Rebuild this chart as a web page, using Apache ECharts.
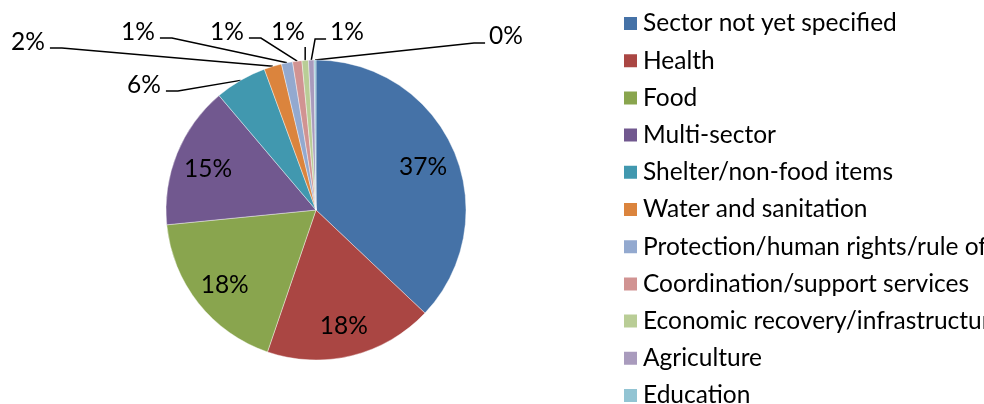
<!DOCTYPE html>
<html>
<head>
<meta charset="utf-8">
<script src="https://cdn.jsdelivr.net/npm/echarts@6/dist/echarts.min.js"></script>
<style>
  html, body { margin: 0; padding: 0; background: #fff; }
  #main { width: 984px; height: 404px; }
</style>
</head>
<body>
<div id="main"></div>
<script>
(function () {
    'use strict';

    // sectors, in the order of the slices (clockwise from 12 o'clock)
    var sectors = [
        'Sector not yet specified',
        'Health',
        'Food',
        'Multi-sector',
        'Shelter/non-food items',
        'Water and sanitation',
        'Protection/human rights/rule of law',
        'Coordination/support services',
        'Economic recovery/infrastructure',
        'Agriculture',
        'Education'
    ];
    // share of funding, percent
    var shares = [37.1, 18.2, 18.2, 15.4, 5.6, 1.9, 1.2, 1.0, 0.7, 0.6, 0.2];
    var colors = ['#4572A7', '#AA4643', '#89A54E', '#71588F', '#4198AF', '#DB843D',
                  '#93A9CF', '#D19392', '#B9CD96', '#A99BBD', '#92C4D3'];

    var FONT = 'Lato';
    var CX = 316, CY = 210, R = 150;
    var INSIDE_SCALE = 112 / 75;   // big slices: label further out than mid radius

    // where the small-slice labels sit (label centre), and how the leader line leaves
    var outsideSpots = {
        4: { x: 144, y: 85, side: 'left' },
        5: { x: 28, y: 42, side: 'left' },
        6: { x: 138, y: 32, side: 'left' },
        7: { x: 227, y: 32, side: 'left' },
        8: { x: 288, y: 32, side: 'up' },
        9: { x: 347, y: 32, side: 'right' },
        10: { x: 506, y: 36, side: 'right' }
    };

    var pieData = [];
    for (var i = 0; i < sectors.length; i++) {
        var big = i < 4;
        pieData.push({
            name: sectors[i],
            value: shares[i],
            label: { position: big ? 'inside' : 'outside' },
            labelLine: { show: !big }
        });
    }

    var myChart = echarts.init(document.getElementById('main'));
    var option = {
        animation: false,
        color: colors,
        legend: {
            orient: 'vertical',
            left: 622,
            top: 11,
            height: 430,
            padding: 0,
            itemWidth: 15,
            itemHeight: 15,
            itemGap: 12.2,
            icon: 'rect',
            selectedMode: false,
            data: sectors,
            textStyle: {
                fontFamily: FONT,
                fontSize: 24.5,
                lineHeight: 24,
                color: '#000'
            }
        },
        series: [
            {
                type: 'pie',
                center: [CX, CY],
                radius: [0, R],
                startAngle: 90,
                clockwise: true,
                avoidLabelOverlap: false,
                silent: true,
                itemStyle: {
                    borderColor: '#fff',
                    borderWidth: 0.4
                },
                label: {
                    formatter: function (p) {
                        return Math.round(p.percent) + '%';
                    },
                    fontFamily: FONT,
                    fontSize: 24.5,
                    color: '#000'
                },
                labelLine: {
                    length: 10,
                    length2: 10,
                    lineStyle: { color: '#000', width: 1.5 }
                },
                labelLayout: function (p) {
                    var i = p.dataIndex;
                    var r = p.labelRect;
                    if (i < 4) {
                        var lx = r.x + r.width / 2;
                        var ly = r.y + r.height / 2;
                        return {
                            x: CX + (lx - CX) * INSIDE_SCALE,
                            y: CY + (ly - CY) * INSIDE_SCALE + 3,
                            align: 'center',
                            verticalAlign: 'middle'
                        };
                    }
                    var s = outsideSpots[i];
                    var p0 = p.labelLinePoints ? p.labelLinePoints[0] : [CX, CY - R];
                    var half = r.width / 2;
                    var pts;
                    if (s.side === 'left') {
                        pts = [p0, [s.x + half + 17, s.y + 6], [s.x + half + 5, s.y + 6]];
                    } else if (s.side === 'right') {
                        pts = [p0, [s.x - half - 15, s.y + 7], [s.x - half - 4, s.y + 7]];
                    } else {
                        pts = [p0, [p0[0], s.y + 15]];
                    }
                    return {
                        x: s.x,
                        y: s.y,
                        align: 'center',
                        verticalAlign: 'middle',
                        labelLinePoints: pts
                    };
                },
                data: pieData
            }
        ]
    };
    myChart.setOption(option, true);
}());
</script>
</body>
</html>
